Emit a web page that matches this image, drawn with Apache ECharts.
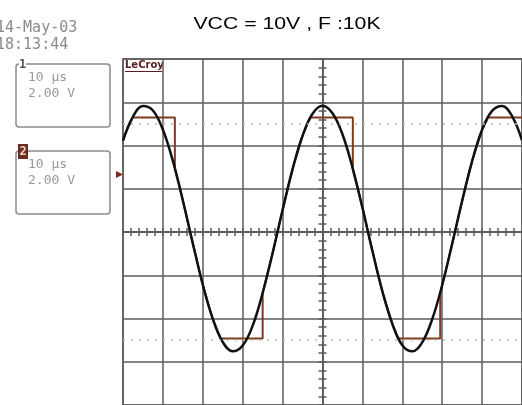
<!DOCTYPE html>
<html>
<head>
<meta charset="utf-8">
<script src="https://cdn.jsdelivr.net/npm/echarts@6/dist/echarts.min.js"></script>
<style>
  html, body { margin: 0; padding: 0; background: #fff; }
  #scope { width: 522px; height: 405px; }
</style>
</head>
<body>
<div id="scope"></div>
<script>
// time in µs relative to the centre of the screen, volts on each channel
let ch1Time = [-50, -47.5, -45, -42.5, -40, -37.5, -35, -32.5, -30, -27.5, -25, -22.5, -20,
  -17.5, -15, -12.5, -10, -7.5, -5, -2.5, 0, 2.5, 5, 7.5, 10, 12.5, 15, 17.5, 20, 22.5, 25,
  27.5, 30, 32.5, 35, 37.5, 40, 42.5, 45, 47.5, 50]
let ch1Volts = [4.22, 5.34, 5.83, 5.62, 4.73, 3.29, 1.46, -0.53, -2.44, -4.02, -5.09, -5.52, -5.25,
  -4.33, -2.82, -0.97, 1.02, 2.91, 4.45, 5.47, 5.84, 5.49, 4.52, 2.99, 1.13, -0.87, -2.74, -4.25,
  -5.24, -5.52, -5.10, -4.03, -2.45, -0.54, 1.44, 3.28, 4.73, 5.60, 5.83, 5.36, 4.24]

let ch2Time = [-50, -49, -47.6, -37, -37, -35, -32.5, -30, -27.5, -25.5, -15, -15, -12.5, -10,
  -7.5, -5, -3.1, 7.6, 7.6, 10, 12.5, 15, 17.5, 19, 29.5, 29.5, 32.5, 35, 37.5, 40, 41.5, 50]
let ch2Volts = [4.22, 4.73, 5.29, 5.29, 2.94, 1.46, -0.53, -2.44, -4.02, -4.92, -4.92, -2.82, -0.97,
  1.02, 2.91, 4.45, 5.29, 5.29, 2.90, 1.13, -0.87, -2.74, -4.25, -4.92, -4.92, -2.85, -0.54, 1.44,
  3.28, 4.73, 5.29, 5.29]

let refLevels = [5, -5]

let chart = echarts.init(document.getElementById('scope'))

let gridColor = '#5c5c5c'
let monoFont = '"DejaVu Sans Mono", monospace'

// two copies of each axis, one with ticks out and one with ticks in, so the
// centre lines get ticks on both sides like the scope graticule
function xAxisPart(inside, split) {
  return {
    type: 'value', position: 'bottom', min: -50, max: 50, interval: 10,
    axisLine: { onZero: true, lineStyle: { color: gridColor, width: 1.5 } },
    axisTick: { show: true, inside: inside, length: 4, lineStyle: { color: gridColor, width: 1.5 } },
    minorTick: { show: true, splitNumber: 5, length: 4, lineStyle: { color: gridColor, width: 1.5 } },
    splitLine: { show: split, lineStyle: { color: gridColor, width: 1.5 } },
    axisLabel: { show: false }
  }
}
function yAxisPart(inside, split) {
  return {
    type: 'value', position: 'left', min: -8, max: 8, interval: 2,
    axisLine: { onZero: true, lineStyle: { color: gridColor, width: 1.5 } },
    axisTick: { show: true, inside: inside, length: 4, lineStyle: { color: gridColor, width: 1.5 } },
    minorTick: { show: true, splitNumber: 5, length: 4, lineStyle: { color: gridColor, width: 1.5 } },
    splitLine: { show: split, lineStyle: { color: gridColor, width: 1.5 } },
    axisLabel: { show: false }
  }
}

function readoutBox(top, label, labelBox) {
  let items = [
    { type: 'rect', shape: { x: 16, y: top, width: 94, height: 63, r: 3 },
      style: { fill: 'none', stroke: '#8c8c8c', lineWidth: 1.5 } },
    { type: 'text', x: 28, y: top + 14, style: { text: '10 µs', font: '13px ' + monoFont, fill: '#9a9a9a', verticalAlign: 'middle' } },
    { type: 'text', x: 28, y: top + 30, style: { text: '2.00 V', font: '13px ' + monoFont, fill: '#9a9a9a', verticalAlign: 'middle' } }
  ]
  if (labelBox) {
    items.push({ type: 'rect', shape: { x: 18, y: top - 7, width: 10, height: 15 }, style: { fill: '#6e2c1c' } })
    items.push({ type: 'text', x: 23, y: top + 0.5, style: { text: label, font: 'bold 12px ' + monoFont, fill: '#e8d8d0', align: 'center', verticalAlign: 'middle' } })
  } else {
    items.push({ type: 'rect', shape: { x: 19, y: top - 3, width: 7, height: 6 }, style: { fill: '#fff' } })
    items.push({ type: 'text', x: 22.5, y: top + 1, style: { text: label, font: 'bold 12px ' + monoFont, fill: '#555', align: 'center', verticalAlign: 'middle' } })
  }
  return items
}

chart.setOption({
  backgroundColor: '#fff',
  animation: false,
  grid: { left: 123, top: 59, width: 400, height: 347, show: true, borderColor: gridColor, borderWidth: 1.5 },
  xAxis: [xAxisPart(false, true), xAxisPart(true, false)],
  yAxis: [yAxisPart(false, true), yAxisPart(true, false)],
  series: [
    {
      name: 'CH2', type: 'line', showSymbol: false, silent: true,
      data: ch2Time.map((t, i) => [t, ch2Volts[i]]),
      lineStyle: { color: '#7d3c1e', width: 2 },
      markLine: {
        silent: true, symbol: 'none', label: { show: false },
        lineStyle: { color: '#b8b8b8', type: [2, 6], width: 1.5 },
        data: refLevels.map(v => ({ yAxis: v }))
      }
    },
    {
      name: 'CH1', type: 'line', showSymbol: false, silent: true, smooth: 0.4,
      data: ch1Time.map((t, i) => [t, ch1Volts[i]]),
      lineStyle: { color: '#111', width: 2.5 }
    }
  ],
  graphic: [
    { type: 'text', x: 287, y: 24, scaleX: 1.25,
      style: { text: 'VCC = 10V , F :10K', font: '17px "Liberation Sans", Arial, sans-serif', fill: '#000', align: 'center', verticalAlign: 'middle' } },
    { type: 'text', x: -4, y: 28, style: { text: '14-May-03', font: '15px ' + monoFont, fill: '#8a8a8a', verticalAlign: 'middle' } },
    { type: 'text', x: -4, y: 45, style: { text: '18:13:44', font: '15px ' + monoFont, fill: '#8a8a8a', verticalAlign: 'middle' } },
    ...readoutBox(64, '1', false),
    ...readoutBox(151, '2', true),
    { type: 'polygon', shape: { points: [[116, 171], [123, 174.5], [116, 178]] }, style: { fill: '#7a2a1a' } },
    { type: 'text', x: 125, y: 65.5, style: { text: 'LeCroy', font: 'bold 10px "DejaVu Sans", sans-serif', fill: '#5a2020', verticalAlign: 'middle' } },
    { type: 'line', shape: { x1: 125, y1: 71.5, x2: 162, y2: 71.5 }, style: { stroke: '#5a2020', lineWidth: 1 } }
  ]
})
</script>
</body>
</html>
